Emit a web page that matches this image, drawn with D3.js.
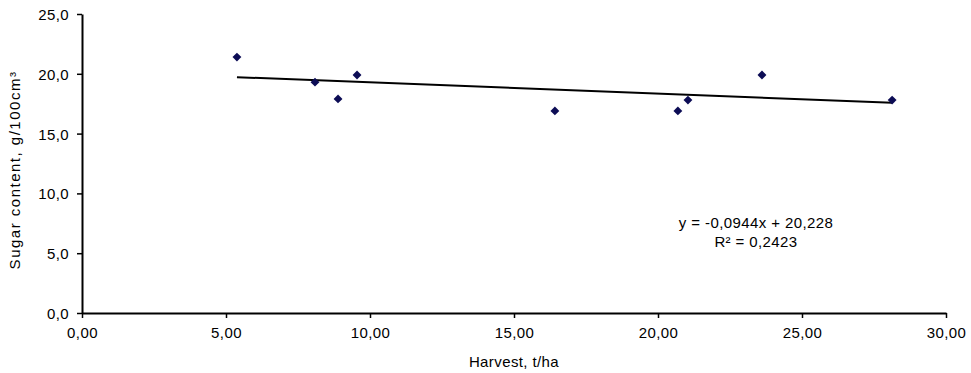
<!DOCTYPE html>
<html lang="en">
<head>
  <meta charset="UTF-8">
  <title>Sugar content vs harvest</title>
  <style>
    body { margin: 0; background: white; }
    text { font-family: "Liberation Sans", Arial, sans-serif; font-size: 15px; fill: #000; letter-spacing: 0.4px; }
  </style>
</head>
<body>
  <svg width="971" height="373"></svg>
  <script src="https://d3js.org/d3.v7.min.js"></script>
  <script>

// harvest (t/ha) and sugar content (g/100cm3)
const harvest = [5.38, 8.09, 8.89, 9.55, 16.42, 20.69, 21.04, 23.61, 28.13];
const sugar   = [21.4, 19.3, 17.9, 19.9, 16.9, 16.9, 17.8, 19.9, 17.8];
const xTicks = [0, 5, 10, 15, 20, 25, 30];
const yTicks = [0, 5, 10, 15, 20, 25];
const slope = -0.0944, intercept = 20.228;
const eqLines = ["y = -0,0944x + 20,228", "R² = 0,2423"];

const svg = d3.select("svg");
const x = d3.scaleLinear().domain([0, 30]).range([82, 946]);
const y = d3.scaleLinear().domain([0, 25]).range([313, 14]);

const comma = (d, n) => d.toFixed(n).replace(".", ",");

// axes
const xAxis = svg.append("g")
  .attr("transform", `translate(0,${y(0)})`)
  .call(d3.axisBottom(x).tickValues(xTicks).tickSize(5).tickSizeOuter(0).tickFormat(d => comma(d, 2)));
const yAxis = svg.append("g")
  .attr("transform", `translate(${x(0)},0)`)
  .call(d3.axisLeft(y).tickValues(yTicks).tickSize(5).tickSizeOuter(0).tickFormat(d => comma(d, 1)));

[xAxis, yAxis].forEach(a => {
  a.select(".domain").attr("stroke", "#000").attr("stroke-width", 2);
  a.selectAll(".tick line").attr("stroke", "#000").attr("stroke-width", 1.5);
  a.selectAll("text").attr("font-size", null).attr("font-family", null).attr("fill", "#000");
});
xAxis.selectAll(".tick text").attr("y", 14).attr("dy", "0.71em");
yAxis.selectAll(".tick text").attr("x", -13).attr("dy", "0.36em");

// axis titles
svg.append("text")
  .attr("x", (x(0) + x(30)) / 2).attr("y", 367)
  .attr("text-anchor", "middle")
  .text("Harvest, t/ha");

svg.append("text")
  .attr("transform", `translate(20,${170}) rotate(-90)`)
  .attr("text-anchor", "middle")
  .style("letter-spacing", "1.5px")
  .text("Sugar content, g/100cm³");

// trend line
const xMin = d3.min(harvest), xMax = d3.max(harvest);
svg.append("line")
  .attr("x1", x(xMin)).attr("y1", y(slope * xMin + intercept))
  .attr("x2", x(xMax)).attr("y2", y(slope * xMax + intercept))
  .attr("stroke", "#000").attr("stroke-width", 2);

// points
svg.append("g").selectAll("path")
  .data(harvest.map((h, i) => [h, sugar[i]]))
  .join("path")
  .attr("d", d3.symbol(d3.symbolDiamond2, 50))
  .attr("transform", d => `translate(${x(d[0])},${y(d[1])})`)
  .attr("fill", "#0c0c55");

// equation
svg.append("g").selectAll("text")
  .data(eqLines)
  .join("text")
  .attr("x", 756).attr("y", (d, i) => 228 + i * 19)
  .attr("text-anchor", "middle")
  .text(d => d);
</script>
</body>
</html>
